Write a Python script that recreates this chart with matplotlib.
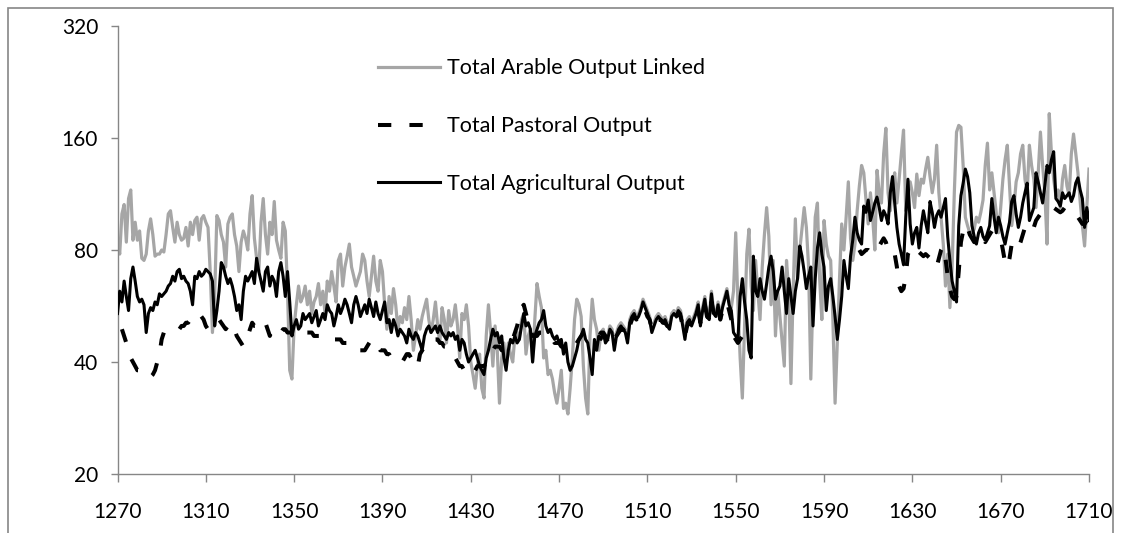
import numpy as np
import matplotlib
matplotlib.use("Agg")
import matplotlib.pyplot as plt

plt.rcParams['font.family'] = ['Lato', 'DejaVu Sans']

# years 1270..1710, one value per year (one row = one decade)
years = np.arange(1270, 1711)
nan = np.nan

arable = [
    85, 78, 100, 106, 84, 110, 116, 85, 95, 85,
    90, 76, 75, 78, 90, 97, 88, 77, 78, 78,
    80, 79, 88, 100, 102, 92, 84, 95, 88, 85,
    86, 92, 82, 95, 88, 96, 98, 85, 97, 99,
    95, 92, 70, 48, 60, 99, 96, 88, 84, 72,
    94, 98, 100, 88, 82, 70, 84, 90, 86, 80,
    100, 112, 86, 76, 70, 95, 110, 88, 78, 95,
    88, 108, 85, 80, 76, 95, 90, 62, 38, 36,
    50, 57, 64, 58, 60, 64, 57, 62, 54, 58,
    60, 65, 57, 62, 54, 66, 62, 70, 64, 58,
    75, 78, 64, 72, 77, 83, 72, 68, 64, 67,
    70, 78, 75, 66, 60, 68, 77, 66, 62, 75,
    70, 57, 49, 60, 54, 63, 57, 49, 53, 51,
    56, 52, 60, 52, 43, 47, 52, 49, 53, 56,
    59, 52, 48, 52, 58, 50, 45, 56, 52, 45,
    55, 50, 52, 57, 50, 41, 54, 52, 57, 50,
    40, 37, 34, 39, 42, 34, 32, 47, 57, 48,
    39, 50, 43, 31, 41, 45, 39, 45, 42, 40,
    47, 48, 46, 52, 54, 42, 47, 49, 40, 52,
    65, 60, 56, 41, 43, 37, 38, 36, 33, 31,
    34, 38, 30, 31, 29, 34, 41, 52, 59, 57,
    53, 39, 32, 29, 47, 59, 52, 49, 43, 48,
    49, 46, 47, 50, 49, 45, 48, 50, 51, 50,
    49, 46, 52, 54, 55, 53, 54, 56, 59, 57,
    55, 53, 49, 51, 53, 54, 53, 52, 53, 51,
    50, 54, 55, 54, 56, 55, 51, 47, 52, 53,
    51, 53, 55, 58, 51, 56, 60, 54, 53, 62,
    55, 54, 58, 53, 57, 60, 63, 58, 56, 62,
    89, 57, 41, 32, 50, 78, 91, 64, 55, 75,
    62, 52, 72, 88, 104, 87, 57, 75, 47, 62,
    53, 45, 39, 75, 62, 35, 62, 97, 67, 80,
    91, 104, 92, 72, 36, 62, 98, 107, 67, 52,
    96, 83, 77, 75, 52, 31, 45, 67, 94, 80,
    98, 122, 86, 75, 83, 102, 119, 135, 129, 109,
    94, 114, 98, 80, 131, 114, 107, 145, 170, 114,
    102, 119, 129, 107, 124, 145, 168, 102, 114, 122,
    114, 104, 128, 112, 124, 121, 132, 142, 126, 114,
    124, 153, 114, 98, 83, 64, 78, 56, 72, 114,
    166, 173, 171, 135, 98, 93, 89, 89, 91, 98,
    95, 101, 109, 135, 155, 116, 129, 114, 101, 89,
    104, 124, 140, 153, 119, 93, 104, 122, 129, 145,
    153, 124, 114, 153, 135, 124, 104, 129, 166, 135,
    114, 83, 186, 145, 124, 112, 116, 104, 124, 135,
    119, 112, 145, 164, 145, 129, 108, 93, 82, 104,
    132,
]

# gaps where the pastoral line cannot be told apart from the others
pastoral = [
    nan, nan, 49, 47, 45, 43, 41, 40, 39, 38,
    38, 37, 37, 37, 37, 36.5, 37, 38, 40, 42,
    46, 48, 48.5, 48, 48, 48.5, 48.5, 49, 49, 50,
    50, 51, 51, 52, 52, 53, 54, 54, 53, 52,
    50, 49, 49, 50, 50, 51, 52, 51, 50, 49,
    50, 49, 50, 49, 47, 46, 45, 44, 45, 47,
    49, 51, 50, 50, 49, 50, 51, 51, 49, 47,
    49, 49, 48, 48, 48, 49, 49, 48, 48, 48,
    49, 49, 49, 48, 48, 48, 48, 48, 48, 47,
    47, 47, 47, 47, 47, 47, 47, 47, 46, 46,
    46, 46, 45, 45, 45, 45, 44, 44, 43, 43,
    43, 43, 43, 44, 45, 46, 46, 45, 44, 43,
    43, 43, 42, 42, 41, 41, 40, 40, 40, 40,
    41, 42, 42, 41, 41, 39, 39, 42, 43, 44,
    45, 46, 46, 46, 46, 46, 45, 45, 44, 44,
    43, 43, 42, 41, 40, 39, 39, 38, 38, 37,
    37, 37, 38, 39, 39, 39, 39, 40, 41, 42,
    43, 44, 44, 44, 43, 43, 43, 44, 45, 46,
    48, 50, 53, 56, 57, 54, 51, 49, 47, 47,
    47, 48, 48, 48, 47, 47, 46, 46, 45, 45,
    45, 44, 44, 43, 43, 43, 43, 44, 45, 46,
    47, 48, 48, 47, 47, 47, 47, 47, 47, 48,
    48, 47, 46, 47, 48, 46, 47, 48, 49, 49,
    48, 47, 50, 52, 53, 52, 53, 54, 56, 55,
    53, 52, 49, 50, 52, 52, 52, 51, 51, 50,
    49, 52, 53, 53, 54, 53, 50, 47, 50, 51,
    50, 52, 53, 55, 51, 54, 57, 53, 52, 58,
    54, 53, 56, 52, 55, 57, 58, 55, 52, 47,
    46, 45, 46, 47, 48, 49, nan, nan, nan, nan,
    nan, nan, nan, nan, nan, nan, nan, nan, nan, nan,
    nan, nan, nan, nan, nan, nan, nan, nan, nan, nan,
    nan, nan, nan, nan, nan, nan, nan, nan, nan, nan,
    nan, nan, nan, nan, nan, nan, nan, nan, nan, nan,
    nan, nan, nan, nan, nan, nan, 80, 78, 79, 80,
    80, 79, 80, 79, 80, 82, 84, 86, 84, 80,
    79, 80, 78, 72, 64, 62, 63, 68, 78, 80,
    82, 80, 80, 79, 78, 77, 78, 77, 76, 74,
    72, 72, 76, 80, 82, 76, 68, 63, 60, 59,
    60, 70, 84, 90, 94, 92, 88, 86, 84, 84,
    86, 88, 86, 84, 86, 88, 90, 89, 88, 87,
    86, 80, 74, 72, 76, 83, 84, 82, 81, 84,
    88, 92, 92, 90, 89, 92, 96, 98, 100, 100,
    101, 103, 104, 104, 104, 103, 102, 101, 102, 104,
    104, 103, 102, 100, 99, 98, 96, 94, 94, 96,
    98,
]

agricultural = [
    54, 62, 58, 66, 60, 55, 67, 72, 66, 60,
    58, 59, 57, 48, 54, 56, 55, 58, 57, 61,
    60, 61, 62, 64, 65, 68, 66, 70, 71, 67,
    68, 66, 65, 62, 57, 68, 67, 70, 68, 69,
    71, 70, 69, 66, 50, 55, 62, 74, 72, 68,
    65, 67, 64, 60, 55, 57, 52, 62, 68, 66,
    68, 70, 65, 76, 70, 66, 62, 70, 72, 64,
    68, 66, 60, 70, 74, 68, 60, 70, 58, 47,
    50, 52, 49, 50, 54, 52, 53, 54, 51, 53,
    55, 50, 52, 54, 52, 57, 55, 54, 50, 53,
    57, 54, 56, 59, 57, 54, 51, 57, 60, 57,
    53, 55, 57, 54, 59, 56, 53, 58, 54, 52,
    55, 58, 51, 52, 48, 52, 50, 47, 49, 48,
    47, 45, 49, 47, 46, 48, 47, 45, 43, 47,
    49, 50, 48, 49, 50, 48, 50, 48, 47, 46,
    48, 47, 48, 46, 47, 43, 46, 45, 42, 40,
    41, 42, 43, 41, 39, 38, 37, 41, 43, 46,
    49, 47, 48, 45, 47, 41, 38, 43, 46, 45,
    47, 45, 46, 50, 54, 50, 51, 49, 40, 47,
    49, 51, 52, 55, 50, 48, 49, 47, 46, 47,
    45, 46, 42, 45, 40, 38, 39, 41, 43, 46,
    47, 49, 46, 45, 41, 37, 46, 43, 47, 46,
    48, 45, 46, 49, 48, 43, 47, 49, 50, 49,
    48, 45, 51, 53, 54, 52, 53, 55, 58, 56,
    54, 52, 48, 50, 52, 53, 52, 51, 52, 50,
    49, 53, 54, 53, 55, 54, 50, 46, 51, 52,
    50, 52, 54, 57, 50, 55, 59, 53, 52, 61,
    54, 53, 57, 52, 56, 59, 62, 57, 55, 48,
    47, 46, 60, 67, 58, 52, 43, 41, 77, 62,
    60, 67, 62, 59, 65, 72, 77, 70, 59, 62,
    64, 72, 62, 54, 67, 60, 54, 62, 67, 82,
    77, 70, 63, 68, 72, 50, 67, 81, 89, 78,
    72, 55, 64, 67, 60, 53, 46, 52, 60, 75,
    68, 63, 77, 85, 98, 89, 85, 83, 105, 101,
    109, 96, 101, 107, 111, 104, 96, 102, 99, 94,
    114, 126, 107, 92, 83, 78, 73, 98, 124, 94,
    83, 89, 92, 81, 93, 102, 95, 89, 108, 101,
    92, 99, 102, 98, 104, 110, 87, 75, 66, 62,
    58, 93, 112, 121, 132, 126, 114, 93, 87, 83,
    89, 92, 87, 85, 89, 93, 110, 98, 89, 98,
    93, 87, 83, 89, 95, 108, 112, 100, 92, 98,
    107, 114, 121, 96, 100, 104, 129, 122, 114, 107,
    119, 135, 129, 140, 147, 110, 108, 105, 114, 110,
    112, 114, 108, 112, 121, 125, 116, 110, 92, 104,
    96,
]

labels = ["Total Arable Output Linked", "Total Pastoral Output", "Total Agricultural Output"]
y_ticks = [20, 40, 80, 160, 320]
x_ticks = np.arange(1270, 1711, 40)

W, H = 1122, 533
fig = plt.figure(figsize=(W / 100, H / 100), dpi=100)
ax = fig.add_axes([117.5 / W, 1 - 474 / H, (1089 - 117.5) / W, (474 - 26) / H])

axis_grey = "#868686"

l1, = ax.plot(years, arable, color="#A6A6A6", lw=2.3, zorder=2, solid_joinstyle="round")
l2, = ax.plot(years, pastoral, color="black", lw=2.9, zorder=3, dashes=(3.3, 4.5),
              dash_capstyle="butt")
l3, = ax.plot(years, agricultural, color="black", lw=2.2, zorder=4, solid_joinstyle="round")

ax.set_yscale("log", base=2)
ax.set_ylim(20, 320)
ax.set_xlim(1270, 1710)
ax.set_yticks(y_ticks)
ax.set_yticklabels([str(v) for v in y_ticks])
ax.yaxis.set_minor_locator(matplotlib.ticker.NullLocator())
ax.set_xticks(x_ticks)
ax.set_xticklabels([str(v) for v in x_ticks])

for side in ["top", "right"]:
    ax.spines[side].set_visible(False)
for side in ["left", "bottom"]:
    ax.spines[side].set_color(axis_grey)
    ax.spines[side].set_linewidth(1)

ax.tick_params(axis="y", direction="out", length=5, width=1, color=axis_grey,
               pad=9, labelsize=15, labelcolor="black")
ax.tick_params(axis="x", direction="out", length=6, width=1, color=axis_grey,
               pad=14, labelsize=15, labelcolor="black")

ax.legend([l1, l2, l3], labels, loc="upper left",
          bbox_to_anchor=(378 / W, 1 - 58.5 / H), bbox_transform=fig.transFigure,
          frameon=False, fontsize=15.5, handlelength=2.88, handletextpad=0.33,
          labelspacing=1.75, borderpad=0, borderaxespad=0)

# outer chart frame
fig.add_artist(plt.Rectangle((8 / W, -0.05), (1113 - 8) / W, 1 - 8 / H + 0.05,
                             transform=fig.transFigure, fill=False,
                             edgecolor=axis_grey, lw=1.2))

fig.savefig("out.png", dpi=100)
